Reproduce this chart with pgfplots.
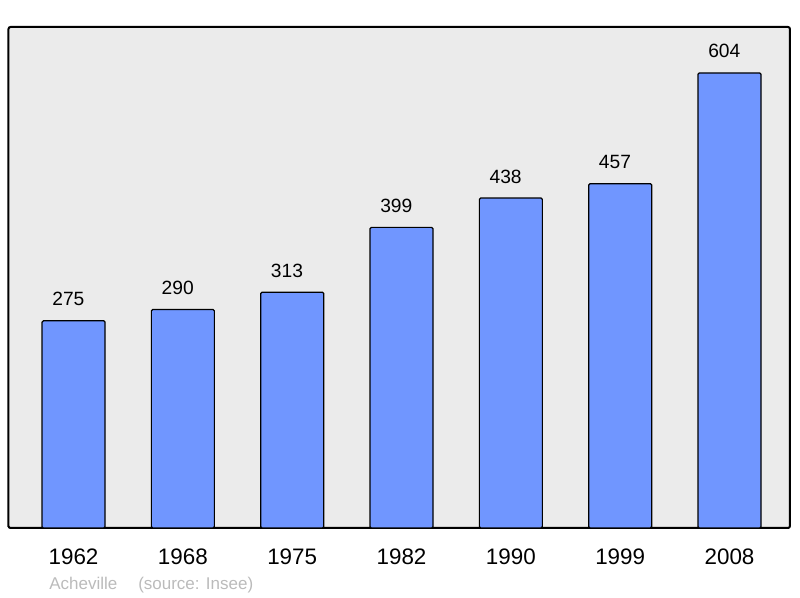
\documentclass[border=0pt]{standalone}
\usepackage{fontspec}
\setmainfont{Liberation Sans}
\usepackage{pgfplots}
\pgfplotsset{compat=1.18}
\definecolor{barblue}{RGB}{112,150,255}
\definecolor{panel}{RGB}{235,235,235}
\definecolor{captiongray}{RGB}{187,187,187}
\begin{document}
\begin{tikzpicture}
% 1 px of the reference = 0.75pt
\path[use as bounding box] (0,0) rectangle (600pt,448.5pt);
\begin{axis}[
    at={(6.375pt,52.5pt)}, anchor=south west,
    scale only axis,
    width=586.1pt, height=375.75pt,
    xmin=-0.595, xmax=6.553,
    ymin=0, ymax=665,
    axis background/.style={fill=panel},
    axis line style={line width=1.5pt, rounded corners=1.5pt},
    ytick=\empty,
    xtick={0,1,2,3,4,5,6},
    xticklabels={1962,1968,1975,1982,1990,1999,2008},
    major tick length=0pt,
    xticklabel style={anchor=base, yshift=-27.5pt, font=\fontsize{16.8}{20}\selectfont},
    /pgf/number format/assume math mode=true,
    nodes near coords,
    nodes near coords style={anchor=base, yshift=11.25pt, xshift=-3.9pt, font=\fontsize{14.4}{17}\selectfont, text=black},
    clip=false,
]
\addplot[ybar, bar width=47.25pt, fill=barblue, draw=black, line width=0.9pt, rounded corners=1pt]
    coordinates {(0,275) (1,290) (2,313) (3,399) (4,438) (5,457) (6,604)};
\end{axis}
\node[anchor=base west, text=captiongray, font=\fontsize{12.75}{15}\selectfont, inner sep=0pt] at (36.75pt,6pt) {Acheville};
\node[anchor=base west, text=captiongray, font=\fontsize{12.75}{15}\selectfont, inner sep=0pt] at (103.5pt,6pt) {(source: Insee)};
\end{tikzpicture}
\end{document}
